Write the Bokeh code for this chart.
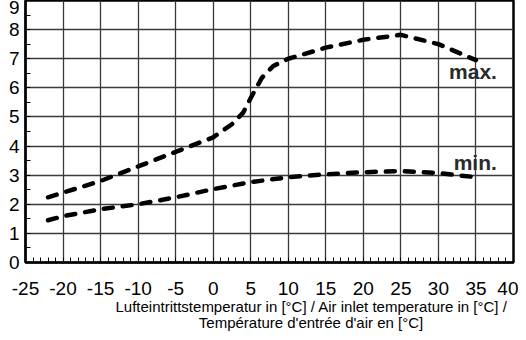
from bokeh.plotting import figure
from bokeh.models import SingleIntervalTicker, Label, Range1d, Title
from bokeh.embed import file_html
from bokeh.resources import INLINE

# Data
temp_max = [-22, -20, -15, -10, -5, 0, 2.5, 4, 5, 6.5, 8, 10, 15, 20, 25, 30, 35]
val_max = [2.24, 2.4, 2.8, 3.3, 3.8, 4.3, 4.75, 5.15, 5.65, 6.35, 6.75, 7.0, 7.38, 7.65, 7.82, 7.5, 6.95]
temp_min = [-22, -20, -15, -10, -5, 0, 5, 10, 15, 20, 25, 30, 35]
val_min = [1.45, 1.59, 1.83, 2.0, 2.24, 2.52, 2.76, 2.93, 3.03, 3.1, 3.14, 3.07, 2.93]
x_ticks = [-25, -20, -15, -10, -5, 0, 5, 10, 15, 20, 25, 30, 35, 40]
x_title_1 = "Lufteintrittstemperatur in [°C] / Air inlet temperature in [°C] /"
x_title_2 = "Température d'entrée d'air en [°C]"
series_labels = ["max.", "min."]

FONT = "Liberation Sans"

p = figure(width=518, height=332, output_backend="svg", toolbar_location=None,
           x_range=Range1d(-25, 40), y_range=Range1d(0, 9),
           min_border_left=25, min_border_top=0, min_border_right=5, min_border_bottom=60)

p.xaxis.ticker = SingleIntervalTicker(interval=5, num_minor_ticks=5)
p.yaxis.ticker = SingleIntervalTicker(interval=1, num_minor_ticks=2)
p.xaxis.major_label_overrides = {t: str(t) for t in x_ticks}

for ax in (p.xaxis, p.yaxis):
    ax.major_label_text_font = FONT
    ax.major_label_text_font_size = "19px"
    ax.major_label_text_color = "black"
    ax.axis_line_color = "black"
    ax.axis_line_width = 2
    ax.major_tick_out = 0
    ax.major_tick_in = 0
    ax.minor_tick_out = 0
    ax.minor_tick_in = 5
    ax.minor_tick_line_color = "black"
p.xaxis.major_label_standoff = 19
p.yaxis.major_label_standoff = 6

p.xgrid.grid_line_color = "#3a3a3a"
p.ygrid.grid_line_color = "#3a3a3a"
p.xgrid.grid_line_width = 1.3
p.ygrid.grid_line_width = 1.3
p.outline_line_color = "black"
p.outline_line_width = 2.5
p.outline_line_alpha = 1

p.line(temp_max, val_max, line_color="black", line_width=4.5, line_dash="9 10", line_cap="round")
p.line(temp_min, val_min, line_color="black", line_width=4.5, line_dash="9 10", line_cap="round")

p.add_layout(Label(x=34.6, y=6.55, text=series_labels[0], text_font=FONT, text_font_size="21px",
                   text_font_style="bold", text_align="center", text_baseline="middle", text_color="#2a2a2a"))
p.add_layout(Label(x=34.9, y=3.45, text=series_labels[1], text_font=FONT, text_font_size="21px",
                   text_font_style="bold", text_align="center", text_baseline="middle", text_color="#2a2a2a"))

pad = "\u00a0" * 20
t = Title(text=x_title_1 + "\n" + pad + x_title_2, align="left", offset=90, standoff=0,
          text_font=FONT, text_font_size="15px", text_font_style="normal",
          text_color="black", text_line_height=0.97, vertical_align="top")
p.add_layout(t, "below")

open("out.html", "w").write(file_html(p, INLINE))
